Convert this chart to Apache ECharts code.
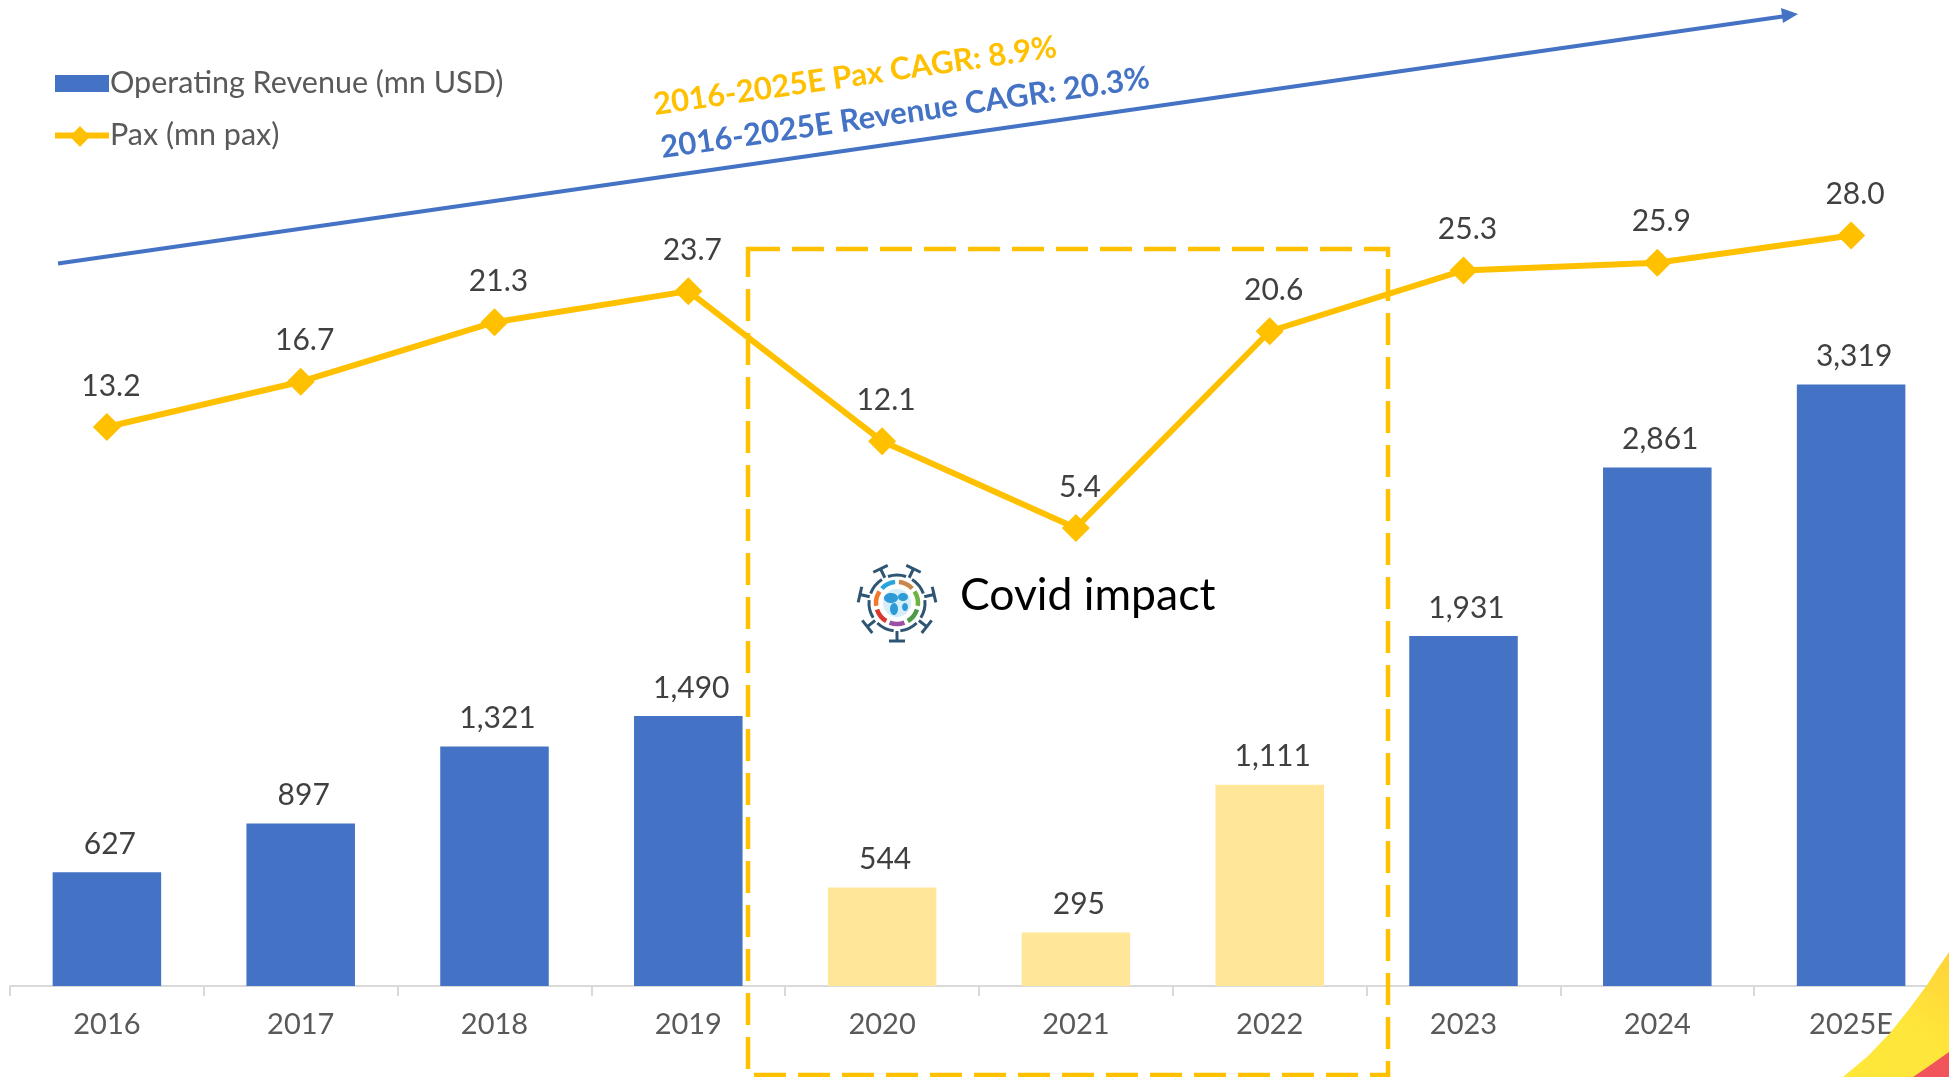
<!DOCTYPE html>
<html>
<head>
<meta charset="utf-8">
<style>html,body{margin:0;padding:0;background:#fff}#c{width:1949px;height:1077px}</style>
<script src="https://cdn.jsdelivr.net/npm/echarts@6/dist/echarts.min.js"></script>
</head>
<body>
<div id="c"></div>
<script>
const categories = ['2016','2017','2018','2019','2020','2021','2022','2023','2024','2025E'];
const revenue = [627,897,1321,1490,544,295,1111,1931,2861,3319];
const pax = [13.2,16.7,21.3,23.7,12.1,5.4,20.6,25.3,25.9,28.0];
const covidYears = ['2020','2021','2022'];
const BLUE='#4472C4', GOLD='#FFC000', PALE='#FFE699';
const FONT='Lato,"Noto Sans",sans-serif';

const CX=897, CY=603, DARK='#2E5573';
const N=7, STEP=2*Math.PI/N;
const spikes=[], outer=[], ring=[];
const ringColors=['#9B4FA5','#4F9A48','#6DB33F','#C8864A','#29A5DC','#F07A2A','#D8382E'];
for(let i=0;i<N;i++){
  const rot=i*STEP;
  spikes.push({type:'group',x:CX,y:CY,rotation:rot,children:[
    {type:'line',shape:{x1:0,y1:28,x2:0,y2:38},style:{stroke:DARK,lineWidth:3}},
    {type:'line',shape:{x1:-8,y1:38,x2:8,y2:38},style:{stroke:DARK,lineWidth:3}}
  ]});
  const base=Math.PI/2-rot;
  outer.push({type:'arc',shape:{cx:CX,cy:CY,r:28,startAngle:base+0.12,endAngle:base+STEP-0.12},style:{stroke:DARK,lineWidth:3,fill:null}});
  ring.push({type:'arc',shape:{cx:CX,cy:CY,r:21,startAngle:base-0.36,endAngle:base+0.36},style:{stroke:ringColors[i],lineWidth:4.5,fill:null}});
}

const option={
  animation:false,
  textStyle:{fontFamily:FONT},
  grid:{left:10,right:1,top:0,bottom:91,containLabel:false},
  legend:{orient:'vertical',left:47,top:63,itemWidth:54,itemHeight:17,itemGap:21,
    lineStyle:{width:6},
    textStyle:{fontFamily:FONT,fontSize:30.5,color:'#595959',padding:[0,0,0,-4]},
    data:[{name:'Operating Revenue (mn USD)',icon:'rect'},{name:'Pax (mn pax)'}]},
  xAxis:{type:'category',data:categories,
    axisLine:{lineStyle:{color:'#D9D9D9',width:2}},
    axisTick:{show:true,length:10,lineStyle:{color:'#D9D9D9',width:2}},
    axisLabel:{fontFamily:FONT,fontSize:29,color:'#595959',margin:24}},
  yAxis:[
    {type:'value',min:0,max:5440,show:false,splitLine:{show:false}},
    {type:'value',min:-30,max:46.2,show:false,splitLine:{show:false}}
  ],
  series:[
    {name:'Operating Revenue (mn USD)',type:'bar',yAxisIndex:0,barCategoryGap:'44%',
     itemStyle:{color:BLUE},
     data:revenue.map((v,i)=>covidYears.includes(categories[i])?{value:v,itemStyle:{color:PALE}}:v),
     label:{show:true,position:'top',distance:13,offset:[3,0],fontFamily:FONT,fontSize:30,color:'#404040',
       formatter:p=>Number(p.value).toLocaleString('en-US')}},
    {name:'Pax (mn pax)',type:'line',yAxisIndex:1,data:pax,symbol:'diamond',symbolSize:28,
     lineStyle:{color:GOLD,width:6},itemStyle:{color:GOLD},
     label:{show:true,position:'top',distance:12,offset:[4,0],fontFamily:FONT,fontSize:30,color:'#404040',
       formatter:p=>p.value.toFixed(1)}}
  ],
  graphic:[
    {type:'polygon',z:1,shape:{points:[[1843,1077],[1868,1056],[1890,1033],[1910,1008],[1927,985],[1938,968],[1949,952],[1949,1077]]},
      style:{fill:new echarts.graphic.LinearGradient(1,0,0,1,[{offset:0,color:'#FFD23A'},{offset:0.5,color:'#FFE63A'},{offset:1,color:'#FFE73A'}])}},
    {type:'polygon',z:1,shape:{points:[[1913,1077],[1932,1064],[1949,1052],[1949,1077]]},style:{fill:'#F2545B'}},
    {type:'polygon',z:50,shape:{points:[[80,126],[90,136.5],[80,147],[70,136.5]]},style:{fill:GOLD}},
    {type:'rect',z:50,shape:{x:748,y:249,width:640,height:826},style:{fill:null,stroke:GOLD,lineWidth:4.5,lineDash:[32,12]}},
    {type:'line',z:50,shape:{x1:58,y1:263.5,x2:1786,y2:16},style:{stroke:BLUE,lineWidth:4}},
    {type:'polygon',z:50,shape:{points:[[1798,14],[1781,8],[1783,23]]},style:{fill:BLUE}},
    {type:'text',z:50,x:855,y:76,rotation:8.2*Math.PI/180,style:{text:'2016-2025E Pax CAGR: 8.9%',fill:GOLD,font:'bold 31px '+FONT,textAlign:'center',textVerticalAlign:'middle'}},
    {type:'text',z:50,x:905,y:113,rotation:8.2*Math.PI/180,style:{text:'2016-2025E Revenue CAGR: 20.3%',fill:BLUE,font:'bold 31px '+FONT,textAlign:'center',textVerticalAlign:'middle'}},
    {type:'text',z:50,x:960,y:596,style:{text:'Covid impact',fill:'#000',font:'44.5px '+FONT,textAlign:'left',textVerticalAlign:'middle'}},
    {type:'group',z:50,children:[
      ...spikes,...outer,...ring,
      {type:'circle',shape:{cx:CX,cy:CY,r:14},style:{fill:'#D6EEF9'}},
      {type:'ellipse',shape:{cx:CX-6,cy:CY-5,rx:7,ry:5},style:{fill:'#2E9BD6'}},
      {type:'ellipse',shape:{cx:CX+6,cy:CY-6,rx:5,ry:4},style:{fill:'#2E9BD6'}},
      {type:'ellipse',shape:{cx:CX-3,cy:CY+6,rx:4,ry:6},style:{fill:'#2E9BD6'}},
      {type:'ellipse',shape:{cx:CX+8,cy:CY+4,rx:3,ry:4},style:{fill:'#2E9BD6'}}
    ]}
  ]
};
const chart=echarts.init(document.getElementById('c'),null,{renderer:'canvas'});
chart.setOption(option);
</script>
</body>
</html>
